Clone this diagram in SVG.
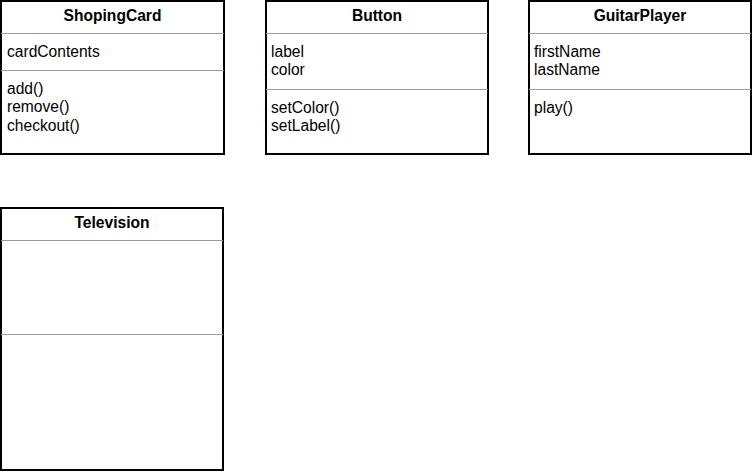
<svg xmlns="http://www.w3.org/2000/svg" width="753" height="472" viewBox="0 0 753 472">
<style>
.box{fill:#fff;stroke:#000;stroke-width:2}
.div{stroke:#999;stroke-width:1}
.t{font-family:"Liberation Sans",Arial,sans-serif;font-size:15.6px;font-weight:bold;text-anchor:middle;fill:#000}
.a{font-family:"Liberation Sans",Arial,sans-serif;font-size:15.6px;fill:#000}
</style>
<rect width="753" height="472" fill="#fff"/>
<g id="ShopingCard">
<rect class="box" x="1" y="1" width="223" height="153"/>
<line class="div" x1="1" y1="33.5" x2="224" y2="33.5"/>
<line class="div" x1="1" y1="70.5" x2="224" y2="70.5"/>
<text class="t" x="112.5" y="20.5">ShopingCard</text>
<text class="a" x="7" y="56.5">cardContents</text>
<text class="a" x="7" y="93.5">add()</text>
<text class="a" x="7" y="112">remove()</text>
<text class="a" x="7" y="130.5">checkout()</text>
</g>
<g id="Button">
<rect class="box" x="266" y="1" width="222" height="153"/>
<line class="div" x1="266" y1="33.5" x2="488" y2="33.5"/>
<line class="div" x1="266" y1="89.5" x2="488" y2="89.5"/>
<text class="t" x="377" y="20.5">Button</text>
<text class="a" x="271" y="56.5">label</text>
<text class="a" x="271" y="75">color</text>
<text class="a" x="271" y="112.5">setColor()</text>
<text class="a" x="271" y="131">setLabel()</text>
</g>
<g id="GuitarPlayer">
<rect class="box" x="529" y="1" width="222" height="153"/>
<line class="div" x1="529" y1="33.5" x2="751" y2="33.5"/>
<line class="div" x1="529" y1="89.5" x2="751" y2="89.5"/>
<text class="t" x="640" y="20.5">GuitarPlayer</text>
<text class="a" x="534" y="56.5">firstName</text>
<text class="a" x="534" y="75">lastName</text>
<text class="a" x="534" y="112.5">play()</text>
</g>
<g id="Television">
<rect class="box" x="1" y="208" width="222" height="262"/>
<line class="div" x1="1" y1="240.5" x2="223" y2="240.5"/>
<line class="div" x1="1" y1="334.5" x2="223" y2="334.5"/>
<text class="t" x="112" y="227.5">Television</text>
</g>
<g id="connectors"></g>
</svg>
